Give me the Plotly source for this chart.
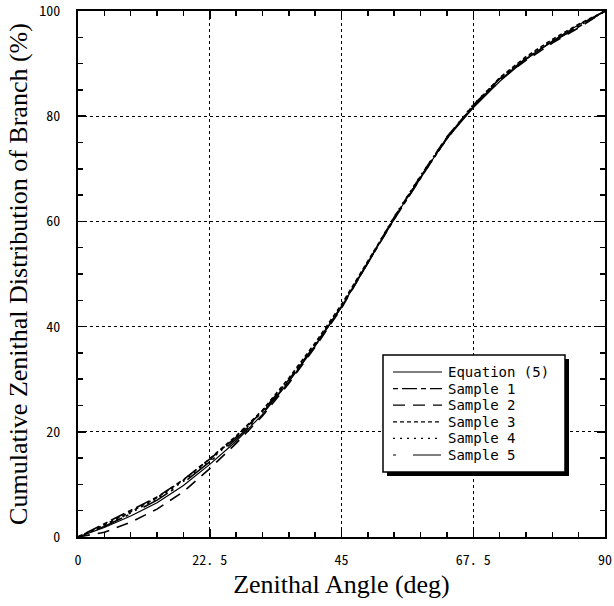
import plotly.graph_objects as go

angle = [0, 4.5, 9, 13.5, 18, 22.5, 27, 31.5, 36, 40.5, 45, 49.5, 54, 58.5, 63, 67.5, 72, 76.5, 81, 85.5, 90]
equation5 = [0, 1.8, 4.0, 6.5, 9.8, 13.8, 18.2, 23.3, 29.5, 36.3, 43.7, 52.1, 60.6, 68.4, 75.8, 81.6, 86.6, 90.8, 94.3, 97.4, 100]
sample1 = [0, 2.5, 5.0, 7.6, 10.9, 14.8, 19.0, 23.9, 29.9, 36.5, 43.8, 52.0, 60.4, 68.2, 75.9, 82.1, 87.1, 91.0, 94.2, 97.0, 100]
sample2 = [0, 0.9, 2.8, 5.3, 8.6, 13.0, 17.8, 23.0, 29.2, 36.1, 43.5, 52.2, 60.8, 68.6, 76.1, 81.9, 86.9, 90.6, 93.9, 96.8, 100]
sample3 = [0, 2.3, 4.8, 7.5, 10.8, 14.9, 19.2, 24.1, 30.2, 36.9, 44.2, 52.4, 60.7, 68.5, 75.7, 82.0, 87.3, 91.3, 94.6, 97.5, 100]
sample4 = [0, 2.1, 4.6, 7.3, 10.6, 14.6, 18.9, 23.8, 29.8, 36.6, 44.0, 52.3, 60.9, 68.7, 76.0, 82.2, 87.2, 91.1, 94.4, 97.2, 100]
sample5 = [0, 2.0, 4.4, 7.0, 10.3, 14.3, 18.6, 23.6, 29.6, 36.4, 43.8, 52.1, 60.5, 68.3, 75.8, 81.8, 86.9, 90.9, 94.1, 97.1, 100]

x_tickvals = [0, 22.5, 45, 67.5, 90]
x_ticktext = ["0", "22. 5", "45", "67. 5", "90"]
y_tickvals = [0, 20, 40, 60, 80, 100]

series = [
    ("Equation (5)", equation5, "solid", 1.2),
    ("Sample 1", sample1, "5px,4px,15px,4px", 1.6),
    ("Sample 2", sample2, "12px,8px", 1.6),
    ("Sample 3", sample3, "4px,3px", 1.6),
    ("Sample 4", sample4, "2px,5px", 1.6),
    ("Sample 5", sample5, "3px,17px,28px,4px", 1.6),
]

GOTHIC = "Noto Sans Mono CJK JP, DejaVu Sans Mono, monospace"
LEGFONT = "DejaVu Sans Mono, monospace"
TICKSIZE = 14

fig = go.Figure()
for name, vals, dash, w in series:
    fig.add_trace(go.Scatter(x=angle, y=vals, mode="lines", name=name, showlegend=False,
                             line=dict(color="black", width=w, dash=dash)))

W, H = 614, 606
ml, mr, mt, mb = 78, 9, 11, 69
pw, ph = W - ml - mr, H - mt - mb

def px(x):
    return (x - ml) / pw

def py(y):
    return (H - mb - y) / ph

# legend box (drawn as a key for the traces above)
box_l, box_t, box_r, box_b = 383, 355, 565, 472
shadow = 4
fig.add_shape(type="rect", xref="paper", yref="paper",
              x0=px(box_l + shadow), x1=px(box_r + shadow), y0=py(box_b + shadow), y1=py(box_t + shadow),
              fillcolor="black", line=dict(width=0), layer="above")
fig.add_shape(type="rect", xref="paper", yref="paper",
              x0=px(box_l), x1=px(box_r), y0=py(box_b), y1=py(box_t),
              fillcolor="white", line=dict(color="black", width=1.5), layer="above")
row0, row_gap = 372, 16.6
for i, (name, vals, dash, w) in enumerate(series):
    yy = py(row0 + i * row_gap)
    fig.add_shape(type="line", xref="paper", yref="paper", x0=px(393), x1=px(442), y0=yy, y1=yy,
                  line=dict(color="black", width=1.2, dash=dash), layer="above")
    fig.add_annotation(x=px(447), y=yy, xref="paper", yref="paper", text=name, showarrow=False,
                       xanchor="left", yanchor="middle", borderpad=0,
                       font=dict(family=LEGFONT, size=14, color="black"))

axis_common = dict(
    showline=True, linecolor="black", linewidth=2, mirror="ticks",
    ticks="inside", ticklen=8, tickwidth=1.5, tickcolor="black",
    showgrid=True, gridcolor="black", griddash="dot", gridwidth=1,
    zeroline=False, automargin=False, ticklabeloverflow="allow",
    tickfont=dict(family=GOTHIC, size=TICKSIZE, color="black"),
)

fig.update_layout(
    width=W, height=H,
    margin=dict(l=ml, r=mr, t=mt, b=mb),
    paper_bgcolor="white", plot_bgcolor="white",
    showlegend=False,
    xaxis=dict(range=[0, 90], tickvals=x_tickvals, ticktext=x_ticktext,
               minor=dict(dtick=4.5, ticks="inside", ticklen=5, tickwidth=1.5, tickcolor="black", showgrid=False),
               ticklabelstandoff=9,
               title=dict(text="Zenithal Angle (deg)", standoff=7,
                          font=dict(family="Liberation Serif", size=26, color="black")),
               **axis_common),
    yaxis=dict(range=[0, 100], tickvals=y_tickvals,
               minor=dict(dtick=5, ticks="inside", ticklen=5, tickwidth=1.5, tickcolor="black", showgrid=False),
               ticklabelstandoff=13,
               title=dict(text="Cumulative Zenithal Distribution of Branch (%)", standoff=4,
                          font=dict(family="Liberation Serif", size=26, color="black")),
               **axis_common),
)

fig.write_html("out.html",
               config={"displayModeBar": False, "staticPlot": True},
               post_script="document.body.style.margin='0';document.body.style.padding='0';"
                           "document.body.style.overflow='hidden';")
